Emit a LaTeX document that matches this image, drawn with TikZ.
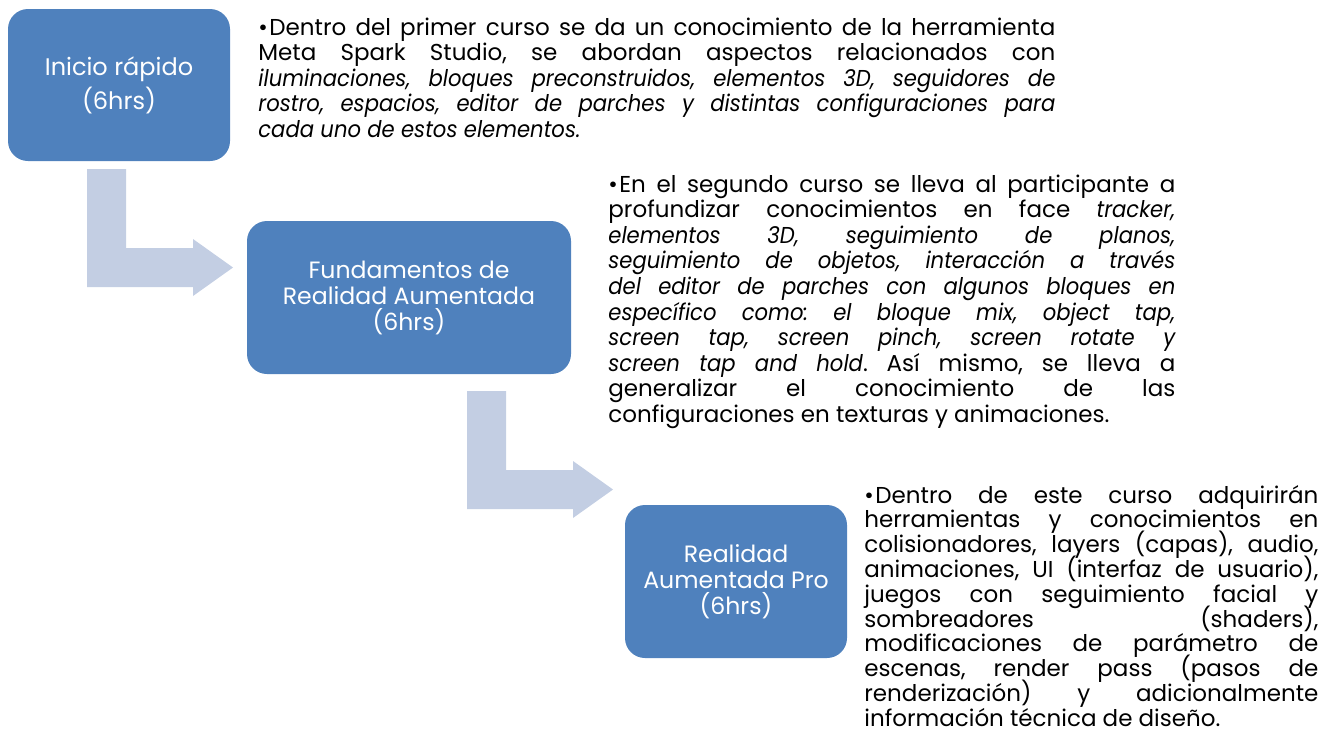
\documentclass[tikz,border=0pt]{standalone}
\usepackage{fontspec}
\setmainfont{Poppins}[ItalicFeatures={FakeStretch=0.92}]
\frenchspacing
\definecolor{boxblue}{HTML}{4F81BD}
\definecolor{arrowblue}{HTML}{C3CEE3}
\newlength\bulletw
\setlength\bulletw{5.5pt}
\tikzset{
  coursebox/.style={fill=boxblue, rounded corners=10pt, text=white, align=center,
    inner sep=2pt, font=\fontsize{11.8}{13}\selectfont},
  infotext/.style={anchor=base west, inner sep=0pt, align=justify,
    execute at begin node={\lineskiplimit=-\maxdimen}},
}
% bent arrow outline, drawn from its top left corner
\newcommand\bentarrow{(0,0) -- (39,0) -- (39,79) -- (106,79) -- (106,70) -- (146,98.5)
  -- (106,127) -- (106,118) -- (0,118) -- cycle}
\newcommand\itembullet{\hangindent\bulletw\hangafter1\makebox[\bulletw][l]{\textbullet}}
\begin{document}
\begin{tikzpicture}[x=0.5pt,y=-0.5pt]
  \useasboundingbox (0,0) rectangle (1340,736);
  %% arrows between the courses
  \foreach \ox/\oy in {87/169, 467/391}
    \fill[arrowblue, shift={(\ox,\oy)}] \bentarrow;
  %% courses
  \node[coursebox, minimum width=111pt, minimum height=76pt,
    font=\fontsize{12}{17}\selectfont] (inicio) at (119,85) {Inicio rápido\\(6hrs)};
  \node[coursebox, minimum width=162pt, minimum height=76.5pt] (fundamentos) at (409,297.5)
    {Fundamentos de\\Realidad Aumentada\\(6hrs)};
  \node[coursebox, minimum width=111pt, minimum height=76.5pt] (pro) at (736,581.5)
    {Realidad\\Aumentada Pro\\(6hrs)};
  %% descriptions
  \node[infotext, text width=398.5pt, font=\fontsize{11.5}{12.75}\selectfont]
    (txtinicio) at (258,35) {\itembullet
    Dentro del primer curso se da un conocimiento de la herramienta\linebreak
    Meta Spark Studio, se abordan aspectos relacionados con\linebreak
    \textit{iluminaciones, bloques preconstruidos, elementos 3D, seguidores de\linebreak
    rostro, espacios, editor de parches y distintas configuraciones para\linebreak
    cada uno de estos elementos.}};
  \node[infotext, text width=283.5pt, font=\fontsize{11.5}{12.8}\selectfont]
    (txtfundamentos) at (608,192) {\itembullet
    En el segundo curso se lleva al participante a\linebreak
    profundizar conocimientos en face \textit{tracker,\linebreak
    elementos 3D, seguimiento de planos,\linebreak
    seguimiento de objetos, interacción a través\linebreak
    del editor de parches con algunos bloques en\linebreak
    específico como: el bloque mix, object tap,\linebreak
    screen tap, screen pinch, screen rotate y\linebreak
    screen tap and hold}. Así mismo, se lleva a\linebreak
    generalizar el conocimiento de las\linebreak
    configuraciones en texturas y animaciones.};
  \node[infotext, text width=227pt, font=\fontsize{11.5}{12.4}\selectfont]
    (txtpro) at (864,503) {\itembullet
    Dentro de este curso adquirirán\linebreak
    herramientas y conocimientos en\linebreak
    colisionadores, layers (capas), audio,\linebreak
    animaciones, UI (interfaz de usuario),\linebreak
    juegos con seguimiento facial y\linebreak
    sombreadores (shaders),\linebreak
    modificaciones de parámetro de\linebreak
    escenas, render pass (pasos de\linebreak
    renderización) y adicionalmente\linebreak
    información técnica de diseño.};
\end{tikzpicture}
\end{document}
